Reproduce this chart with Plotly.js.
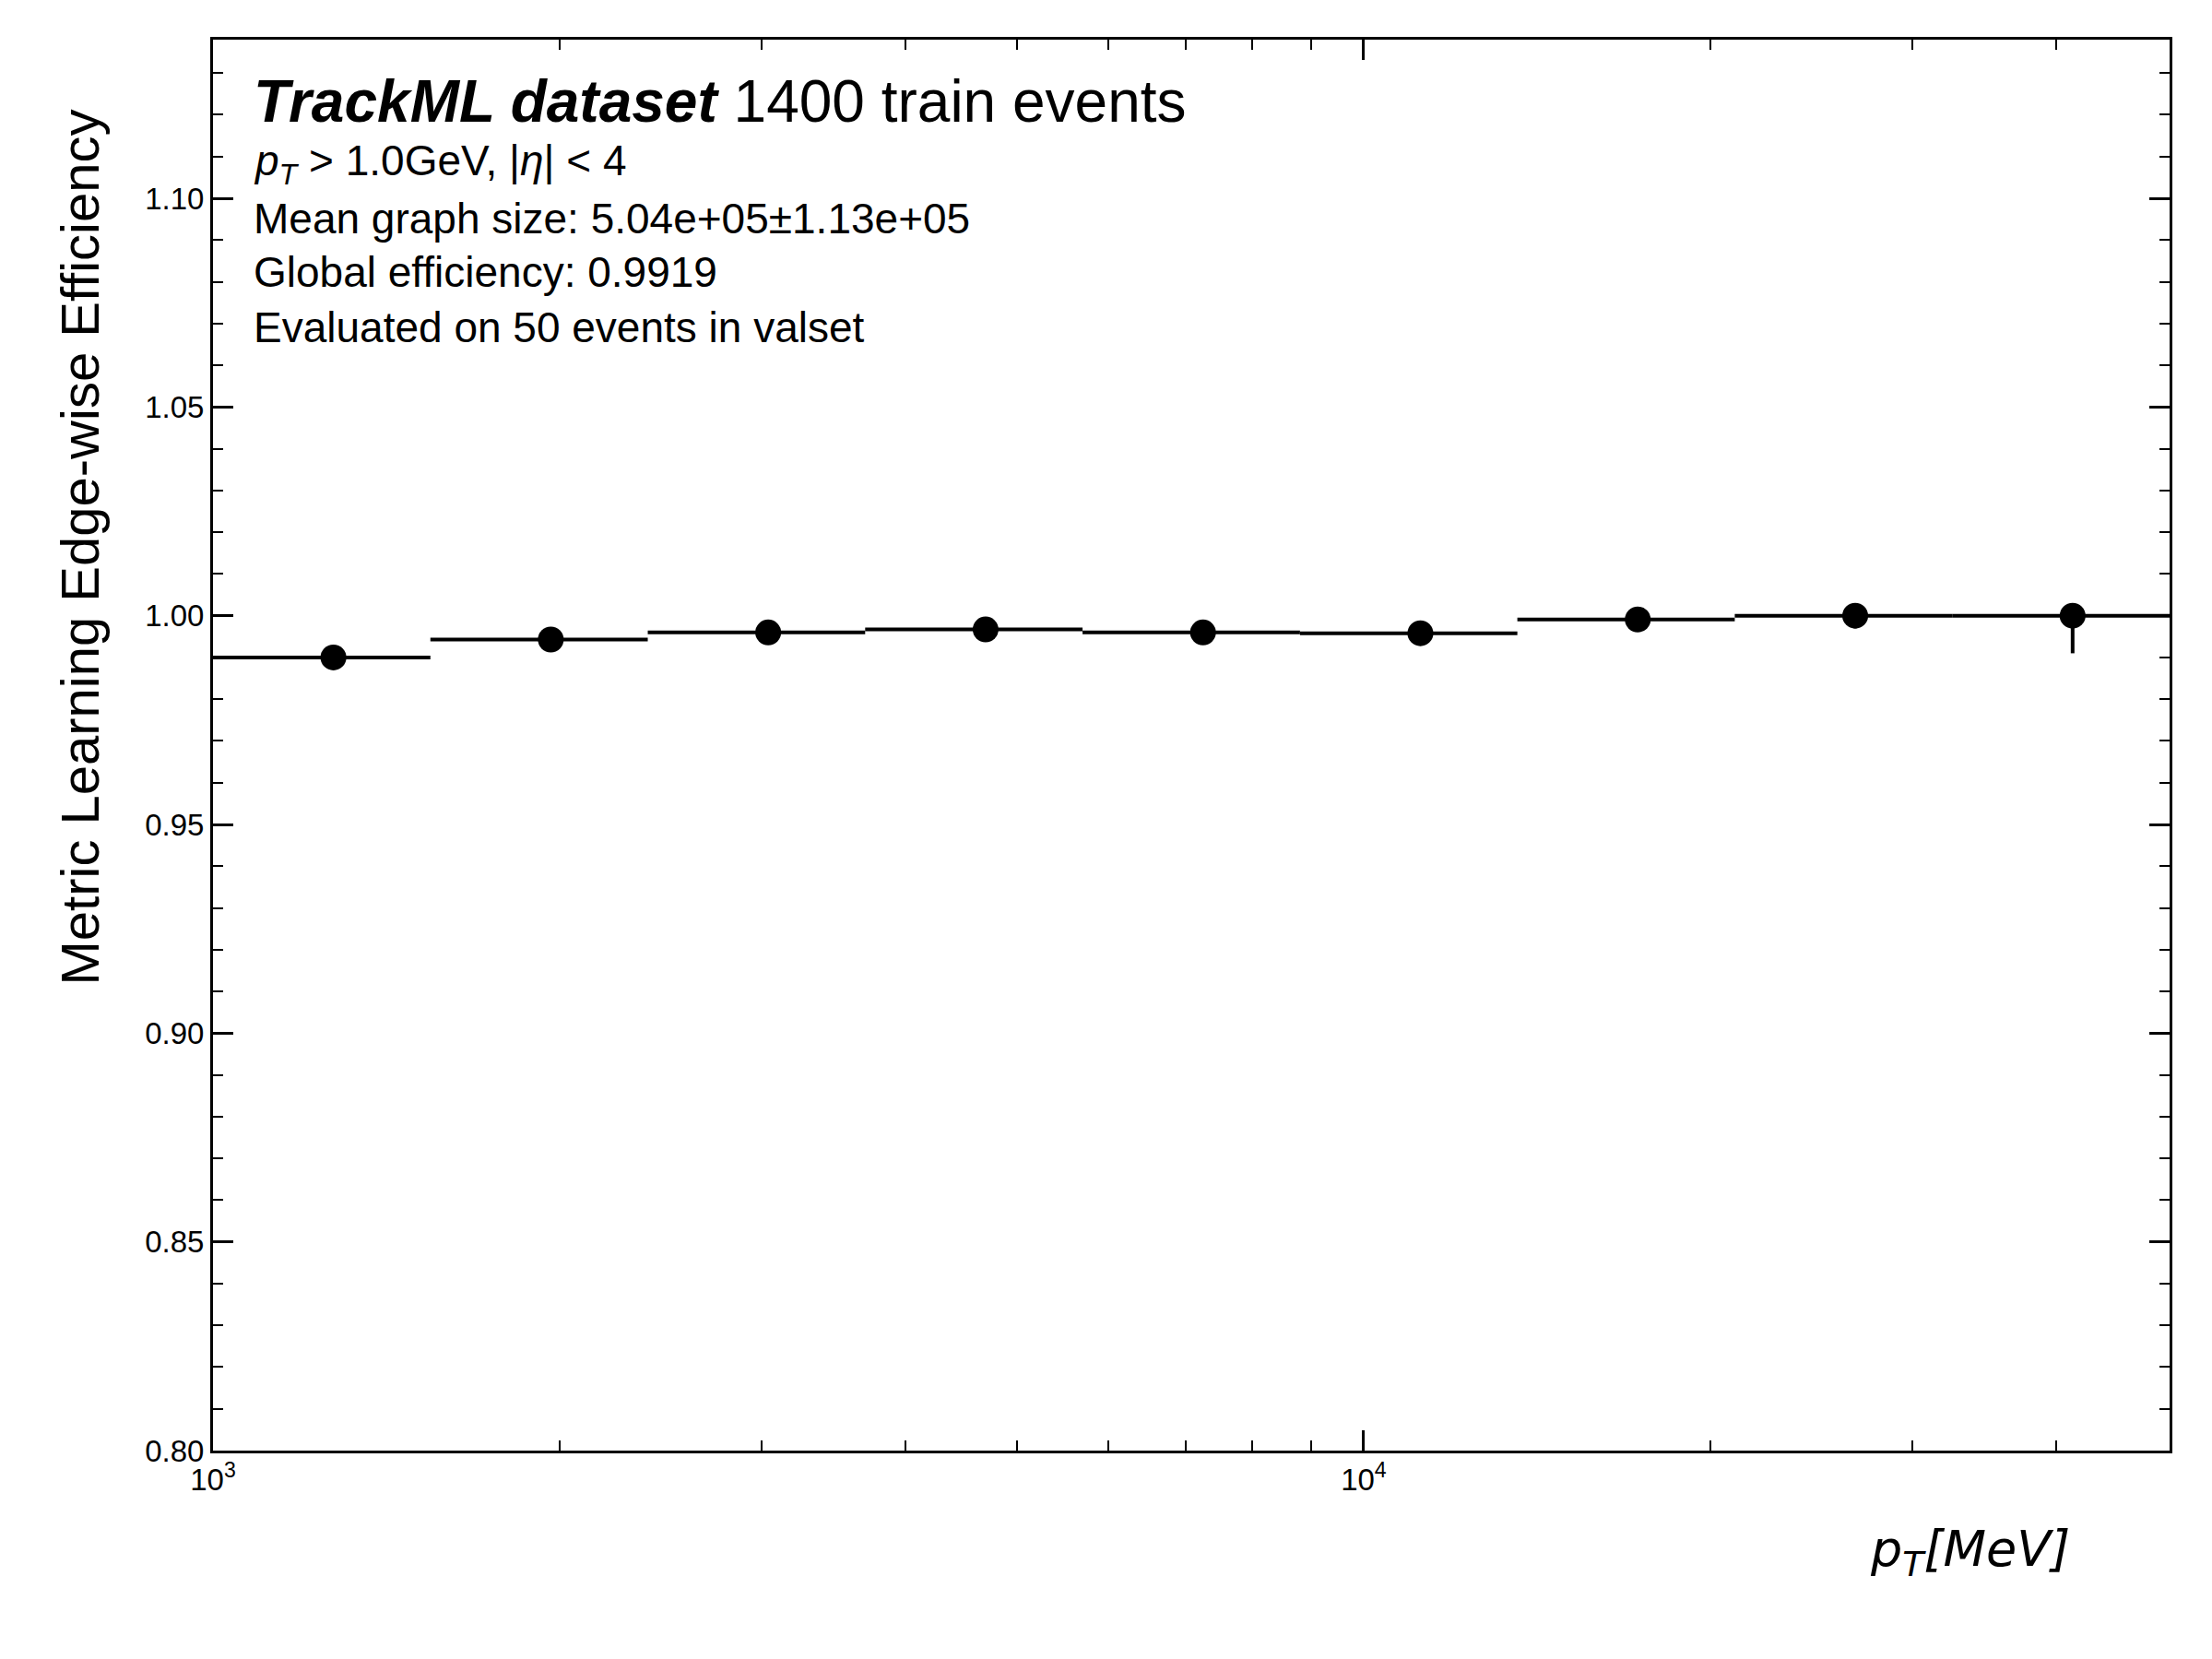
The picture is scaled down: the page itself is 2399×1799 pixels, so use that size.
<!DOCTYPE html>
<html>
<head>
<script src="https://cdn.plot.ly/plotly-3.0.1.min.js"></script>
<style>body{margin:0;background:#fff}</style>
</head>
<body>
<div id="chart" style="width:2399px;height:1799px"></div>
<script>
// bin edges in MeV (equal log widths from 1e3 to 5e4)
var binEdges = [1000, 1545, 2387, 3688, 5698, 8804, 13602, 21016, 32471, 50170];
var efficiency = [0.990, 0.9943, 0.9960, 0.9967, 0.9960, 0.9958, 0.9991, 1.0000, 1.0000];
var errUp = [0, 0, 0, 0, 0, 0, 0, 0, 0];
var errDown = [0.0006, 0.0008, 0.0008, 0.0008, 0.0008, 0.0008, 0.0008, 0.003, 0.009];

var centers = [], left = [], right = [];
for (var i = 0; i < efficiency.length; i++) {
    var c = (binEdges[i] + binEdges[i + 1]) / 2;
    centers.push(c);
    left.push(c - binEdges[i]);
    right.push(binEdges[i + 1] - c);
}

var trace = {
    x: centers,
    y: efficiency,
    type: 'scatter',
    mode: 'markers',
    marker: { color: 'black', size: 28 },
    error_x: { type: 'data', symmetric: false, array: right, arrayminus: left, color: 'black', thickness: 4, width: 0 },
    error_y: { type: 'data', symmetric: false, array: errUp, arrayminus: errDown, color: 'black', thickness: 4, width: 0 },
    showlegend: false
};

var txtFont = { family: 'Liberation Sans, Arial, sans-serif', size: 46, color: 'black' };
var lines = [
    '<i>p</i><sub><i>T</i></sub> > 1.0GeV, |<i>η</i>| < 4',
    'Mean graph size: 5.04e+05±1.13e+05',
    'Global efficiency: 0.9919',
    'Evaluated on 50 events in valset'
];
var lineY = [0.912, 0.873, 0.835, 0.796];
var annotations = [{
    xref: 'paper', yref: 'paper', x: 0.02, y: 0.956, xanchor: 'left', yanchor: 'middle',
    showarrow: false, text: '<b><i>TrackML dataset</i></b> 1400 train events',
    font: { family: 'Liberation Sans, Arial, sans-serif', size: 64, color: 'black' }
}, {
    xref: 'paper', yref: 'paper', x: 0.95, y: -0.072, xanchor: 'right', yanchor: 'middle',
    showarrow: false, text: '<i>p</i><sub><i>T</i></sub><i>[MeV]</i>',
    font: { family: 'DejaVu Sans, sans-serif', size: 54, color: 'black' }
}, {
    xref: 'paper', yref: 'paper', x: -0.068, y: 0.64, xanchor: 'center', yanchor: 'middle',
    showarrow: false, textangle: -90, text: 'Metric Learning Edge-wise Efficiency',
    font: { family: 'Liberation Sans, Arial, sans-serif', size: 58, color: 'black' }
}];
for (var k = 0; k < lines.length; k++) {
    annotations.push({
        xref: 'paper', yref: 'paper', x: 0.02, y: lineY[k], xanchor: 'left', yanchor: 'middle',
        showarrow: false, text: lines[k], font: txtFont
    });
}

var axisCommon = {
    showgrid: false, zeroline: false, showline: true, linecolor: 'black', linewidth: 3,
    mirror: 'allticks', ticks: 'inside', ticklen: 22, tickwidth: 3, tickcolor: 'black',
    tickfont: { family: 'Liberation Sans, Arial, sans-serif', size: 33, color: 'black' }
};

var layout = {
    width: 2399, height: 1799,
    margin: { l: 231, r: 46, t: 43, b: 226 },
    paper_bgcolor: 'white', plot_bgcolor: 'white',
    xaxis: Object.assign({}, axisCommon, {
        type: 'log', range: [3, Math.log10(50170)],
        tickmode: 'array', tickvals: [1000, 10000], ticktext: ['10<sup>3</sup>', '10<sup>4</sup>'],
        minor: { tickmode: 'array', tickvals: [2000, 3000, 4000, 5000, 6000, 7000, 8000, 9000, 20000, 30000, 40000],
            ticks: 'inside', ticklen: 11, tickwidth: 2, tickcolor: 'black' }
    }),
    yaxis: Object.assign({}, axisCommon, {
        range: [0.8, 1.138], tickmode: 'array',
        tickvals: [0.80, 0.85, 0.90, 0.95, 1.00, 1.05, 1.10],
        ticktext: ['0.80', '0.85', '0.90', '0.95', '1.00', '1.05', '1.10'],
        minor: { dtick: 0.01, tick0: 0.8, ticks: 'inside', ticklen: 11, tickwidth: 2, tickcolor: 'black' }
    }),
    annotations: annotations
};

Plotly.newPlot('chart', [trace], layout, { displayModeBar: false });
</script>
</body>
</html>
